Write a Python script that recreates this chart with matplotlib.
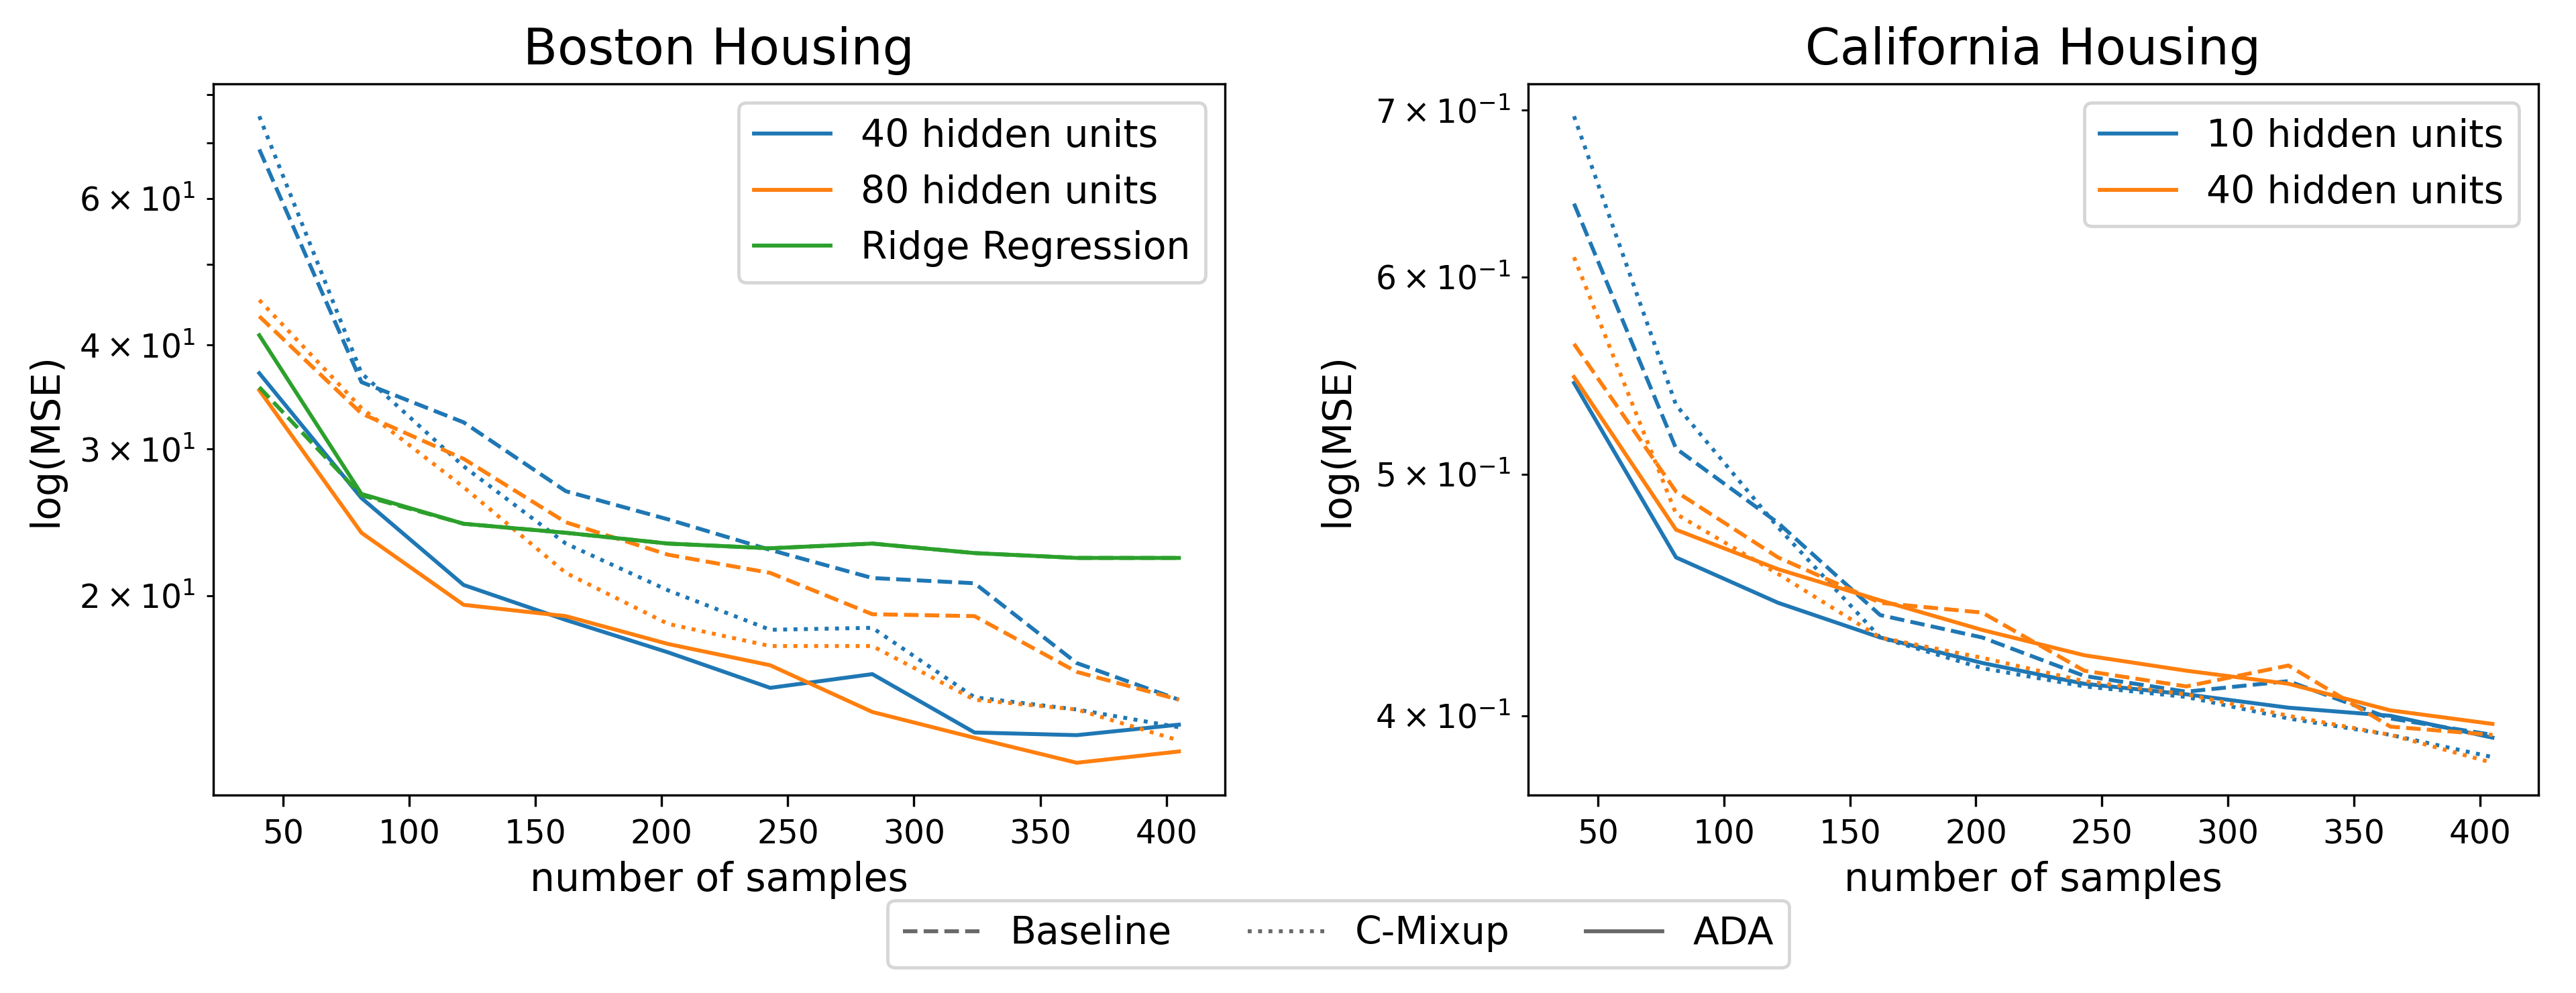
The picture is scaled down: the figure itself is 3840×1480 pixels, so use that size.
import numpy as np
import matplotlib
matplotlib.use("Agg")
import matplotlib.pyplot as plt
from matplotlib.lines import Line2D

# number of training samples (same grid for both datasets)
n_samples = [40.5, 81, 121.5, 162, 202.5, 243, 283.5, 324, 364.5, 405]

# Boston housing, MSE
boston_base_40 = [68.7, 36.1, 32.3, 26.7, 24.7, 22.7, 21.0, 20.7, 16.6, 15.0]
boston_cmix_40 = [75.3, 37.0, 28.6, 23.1, 20.3, 18.2, 18.3, 15.1, 14.6, 13.9]
boston_ada_40 = [37.0, 26.2, 20.6, 18.7, 17.1, 15.5, 16.1, 13.7, 13.6, 14.0]
boston_base_80 = [43.3, 33.1, 29.2, 24.5, 22.4, 21.3, 19.0, 18.9, 16.2, 15.0]
boston_cmix_80 = [45.3, 33.6, 27.0, 21.3, 18.5, 17.4, 17.4, 15.0, 14.6, 13.4]
boston_ada_80 = [35.3, 23.8, 19.5, 18.9, 17.5, 16.5, 14.5, 13.5, 12.6, 13.0]
boston_ridge = [41.1, 26.5, 24.4, 23.8, 23.1, 22.8, 23.1, 22.5, 22.2, 22.2]
boston_ridge_base = [35.6, 26.4, 24.4, 23.8, 23.1, 22.8, 23.1, 22.5, 22.2, 22.2]

# California housing
cal_base_10 = [0.642, 0.512, 0.478, 0.439, 0.430, 0.415, 0.409, 0.413, 0.399, 0.393]
cal_cmix_10 = [0.696, 0.533, 0.476, 0.430, 0.418, 0.411, 0.407, 0.399, 0.393, 0.385]
cal_ada_10 = [0.544, 0.463, 0.444, 0.430, 0.420, 0.412, 0.408, 0.403, 0.400, 0.392]
cal_base_40 = [0.564, 0.492, 0.463, 0.444, 0.440, 0.417, 0.411, 0.419, 0.396, 0.393]
cal_cmix_40 = [0.611, 0.482, 0.456, 0.430, 0.422, 0.413, 0.408, 0.400, 0.393, 0.383]
cal_ada_40 = [0.547, 0.475, 0.458, 0.445, 0.433, 0.423, 0.417, 0.412, 0.402, 0.397]

x_ticks = [50, 100, 150, 200, 250, 300, 350, 400]

blue = '#1f77b4'
orange = '#ff7f0e'
green = '#2ca02c'
lw = 1.2
DPI = 350

plt.rcParams['font.size'] = 10
plt.rcParams['axes.linewidth'] = 0.7
plt.rcParams['xtick.major.width'] = 0.7
plt.rcParams['ytick.major.width'] = 0.7
plt.rcParams['ytick.minor.width'] = 0.6

fig = plt.figure(figsize=(3840 / DPI, 1480 / DPI), dpi=DPI)
ax1 = fig.add_axes([0.0828, 0.1993, 0.3927, 0.7162])
ax2 = fig.add_axes([0.5932, 0.1993, 0.3922, 0.7162])

# Boston
ax1.plot(n_samples, boston_base_40, '--', color=blue, lw=lw)
ax1.plot(n_samples, boston_cmix_40, ':', color=blue, lw=lw)
ax1.plot(n_samples, boston_ada_40, '-', color=blue, lw=lw, label='40 hidden units')
ax1.plot(n_samples, boston_base_80, '--', color=orange, lw=lw)
ax1.plot(n_samples, boston_cmix_80, ':', color=orange, lw=lw)
ax1.plot(n_samples, boston_ada_80, '-', color=orange, lw=lw, label='80 hidden units')
ax1.plot(n_samples, boston_ridge_base, '--', color=green, lw=lw)
ax1.plot(n_samples, boston_ridge, '-', color=green, lw=lw, label='Ridge Regression')

# California
ax2.plot(n_samples, cal_base_10, '--', color=blue, lw=lw)
ax2.plot(n_samples, cal_cmix_10, ':', color=blue, lw=lw)
ax2.plot(n_samples, cal_ada_10, '-', color=blue, lw=lw, label='10 hidden units')
ax2.plot(n_samples, cal_base_40, '--', color=orange, lw=lw)
ax2.plot(n_samples, cal_cmix_40, ':', color=orange, lw=lw)
ax2.plot(n_samples, cal_ada_40, '-', color=orange, lw=lw, label='40 hidden units')

for ax, title, ylab_x in [(ax1, 'Boston Housing', -0.1466), (ax2, 'California Housing', -0.170)]:
    ax.set_yscale('log')
    ax.set_title(title, fontsize=15.3)
    ax.set_xlabel('number of samples', fontsize=12)
    ax.set_ylabel('log(MSE)', fontsize=12)
    ax.xaxis.set_label_coords(0.5, -0.0925)
    ax.yaxis.set_label_coords(ylab_x, 0.5)
    ax.set_xticks(x_ticks)
    ax.legend(loc='upper right', fontsize=11.7)

# shared legend for line styles
style_handles = [Line2D([0], [0], color='dimgray', ls='--', lw=lw),
                 Line2D([0], [0], color='dimgray', ls=':', lw=lw),
                 Line2D([0], [0], color='dimgray', ls='-', lw=lw)]
fig.legend(style_handles, ['Baseline', 'C-Mixup', 'ADA'], loc='center',
           bbox_to_anchor=(0.5195, 0.0595), ncol=3, fontsize=11.7)

fig.savefig('out.png', dpi=DPI)
